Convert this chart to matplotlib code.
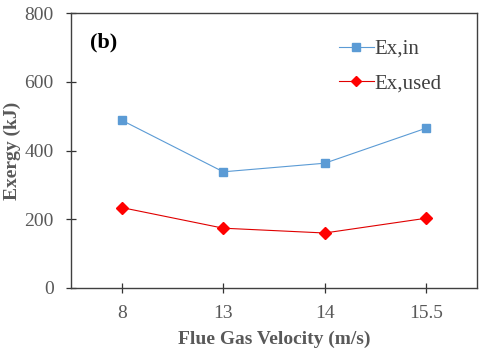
import matplotlib
matplotlib.use("Agg")
import matplotlib.pyplot as plt

categories = ["8", "13", "14", "15.5"]
ex_in = [488, 338, 363, 465]
ex_used = [234, 174, 160, 203]
yticks = [0, 200, 400, 600, 800]

plt.rcParams['font.family'] = ['Liberation Serif', 'DejaVu Serif']

fig = plt.figure(figsize=(4.8, 3.51), dpi=100)
ax = fig.add_axes([71/480, 1-288/351, 406/480, 275/351])
x = list(range(len(categories)))
ax.plot(x, ex_in, color='#5B9BD5', lw=0.8, marker='s', ms=6, mfc='#5B9BD5', mec='#5B9BD5', label='Ex,in')
ax.plot(x, ex_used, color='#E00000', lw=0.8, marker='D', ms=6, mfc='#FF0000', mec='#FF0000', label='Ex,used')
ax.set_xlim(-0.5, 3.5)
ax.set_ylim(0, 800)
ax.set_xticks(x)
ax.set_xticklabels(categories)
ax.set_yticks(yticks)
ax.tick_params(axis='both', direction='inout', length=7, width=0.9, colors='#333333', labelcolor='#595959', labelsize=14)
ax.tick_params(axis='x', pad=9)
ax.tick_params(axis='y', pad=9)
for s in ax.spines.values():
    s.set_color('#404040')
    s.set_linewidth(1.0)
ax.set_xlabel('Flue Gas Velocity (m/s)', fontsize=14, fontweight='bold', color='#595959', labelpad=6)
ax.set_ylabel('Exergy (kJ)', fontsize=14, fontweight='bold', color='#595959', labelpad=2)
ax.text(0.047, 0.875, '(b)', transform=ax.transAxes, fontsize=16, fontweight='bold', color='black')
leg = ax.legend(loc='upper right', bbox_to_anchor=(0.958, 0.972), frameon=False, fontsize=15,
                handlelength=1.7, labelspacing=0.7, handletextpad=0.0, markerscale=0.85, labelcolor='#404040')
fig.savefig('out.png', dpi=100)
